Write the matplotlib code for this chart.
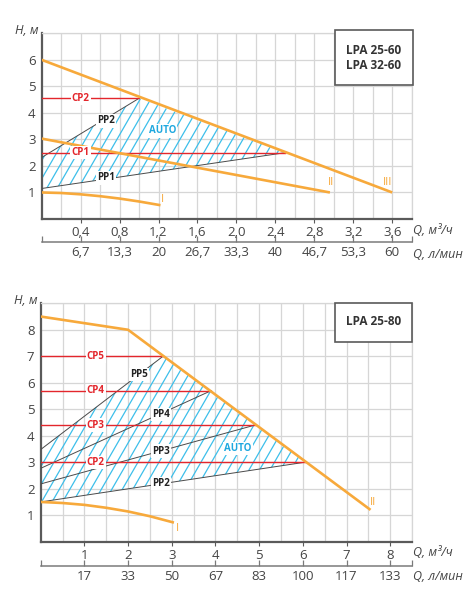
import matplotlib
matplotlib.use("Agg")
import matplotlib.pyplot as plt  # noqa: E402
import numpy as np  # noqa: E402
from matplotlib.patches import Polygon, Rectangle  # noqa: E402

plt.rcParams["font.family"] = ["Open Sans", "DejaVu Sans"]

ORANGE = "#F7A93B"
RED = "#E3262C"
HATCH = "#3DBFEA"
AUTO_BLUE = "#1FA8DF"
GRID = "#D6D6D6"
AXIS = "#5A5A5A"
TEXT = "#444444"
PP_GRAY = "#4A4A4A"

# ---------------------------------------------------------------------------
# LPA 25-60 / LPA 32-60
# ---------------------------------------------------------------------------
top_q_ticks = [0.4, 0.8, 1.2, 1.6, 2.0, 2.4, 2.8, 3.2, 3.6]
top_q_labels = ["0,4", "0,8", "1,2", "1,6", "2,0", "2,4", "2,8", "3,2", "3,6"]
top_lpm_labels = ["6,7", "13,3", "20", "26,7", "33,3", "40", "46,7", "53,3", "60"]
top_h_ticks = [1, 2, 3, 4, 5, 6]

top_I_q = [0.0, 0.2, 0.4, 0.6, 0.8, 1.0, 1.22]
top_I_h = [1.0, 0.98, 0.93, 0.86, 0.77, 0.66, 0.52]
top_II_q = [0.0, 2.96]
top_II_h = [3.03, 1.0]
top_III_q = [0.0, 3.6]
top_III_h = [6.0, 1.0]

top_cp_names = ["CP1", "CP2"]
top_cp_h = [2.5, 4.55]
top_cp_q_end = [2.5, 1.0]
top_pp_names = ["PP1", "PP2"]
top_pp_h0 = [1.15, 2.32]

# ---------------------------------------------------------------------------
# LPA 25-80
# ---------------------------------------------------------------------------
bot_q_ticks = [1, 2, 3, 4, 5, 6, 7, 8]
bot_q_labels = ["1", "2", "3", "4", "5", "6", "7", "8"]
bot_lpm_labels = ["17", "33", "50", "67", "83", "100", "117", "133"]
bot_h_ticks = [1, 2, 3, 4, 5, 6, 7, 8]

bot_I_q = [0.0, 0.5, 1.0, 1.5, 2.0, 2.5, 3.05]
bot_I_h = [1.5, 1.46, 1.39, 1.28, 1.14, 0.96, 0.72]
bot_II_q = [0.0, 2.0, 7.55]
bot_II_h = [8.5, 8.0, 1.2]

bot_cp_names = ["CP2", "CP3", "CP4", "CP5"]
bot_cp_h = [3.0, 4.4, 5.7, 7.0]
bot_cp_q_end = [6.05, 4.9, 3.9, 2.8]
bot_pp_names = ["PP2", "PP3", "PP4", "PP5"]
bot_pp_h0 = [1.5, 2.18, 2.77, 3.48]


def style_axes(ax, xmax, ymax, xstep, q_ticks, q_labels, lpm_labels, h_ticks, sec_loc):
    ax.set_xlim(0, xmax)
    ax.set_ylim(0, ymax)
    ax.set_xticks(q_ticks, labels=q_labels)
    ax.set_xticks(np.arange(xstep, xmax + 1e-6, xstep), minor=True)
    ax.set_yticks(h_ticks)
    ax.set_yticks(np.arange(1, ymax + 1e-6, 1), minor=True)
    ax.grid(which="both", color=GRID, linewidth=0.9)
    ax.set_axisbelow(True)
    for side in ("top", "right"):
        ax.spines[side].set_color(GRID)
        ax.spines[side].set_linewidth(0.9)
    for side in ("left", "bottom"):
        ax.spines[side].set_color(AXIS)
        ax.spines[side].set_linewidth(1.6)
    ax.tick_params(axis="x", which="major", length=3, width=0.8, color=AXIS,
                   labelsize=9.5, labelcolor=TEXT, pad=2)
    ax.tick_params(axis="y", which="major", length=0, labelsize=9.5, labelcolor=TEXT, pad=4.5)
    ax.tick_params(which="minor", length=0)

    sec = ax.secondary_xaxis(sec_loc)
    sec.set_xticks(q_ticks, labels=lpm_labels)
    sec.set_xticks([0, xmax], minor=True)
    sec.spines["bottom"].set_color("#7A7A7A")
    sec.spines["bottom"].set_linewidth(1.1)
    sec.tick_params(which="both", length=4, width=0.9, color="#7A7A7A", direction="in",
                    labelsize=9.5, labelcolor=TEXT, pad=3)

    ax.annotate("H, м", xy=(0, 1), xycoords="axes fraction", xytext=(-15, 3),
                textcoords="offset pixels", ha="center", va="center",
                fontsize=9, style="italic", color=TEXT)


def axis_titles(ax, y1, y2):
    ax.annotate("Q, м³/ч", xy=(1, 0), xycoords="axes fraction", xytext=(1, y1),
                textcoords="offset pixels", ha="left", va="center",
                fontsize=9, style="italic", color=TEXT)
    ax.annotate("Q, л/мин", xy=(1, 0), xycoords="axes fraction", xytext=(1, y2),
                textcoords="offset pixels", ha="left", va="center",
                fontsize=9, style="italic", color=TEXT)


def hatch_region(ax, verts, xmax, ymax, spacing_px=10.5, angle=60):
    fig = ax.figure
    pos = ax.get_position()
    w_px = pos.width * fig.get_figwidth() * fig.dpi
    h_px = pos.height * fig.get_figheight() * fig.dpi
    sx = w_px / xmax
    sy = h_px / ymax
    poly = Polygon(verts, closed=True, facecolor="none", edgecolor="none")
    ax.add_patch(poly)
    run = ymax * sy / np.tan(np.radians(angle)) / sx
    step = spacing_px / sx
    for x0 in np.arange(-run, xmax, step):
        ln, = ax.plot([x0, x0 + run], [0, ymax], color=HATCH, linewidth=0.9, zorder=2)
        ln.set_clip_path(poly)


def label_box(ax, x0, y0, x1, y1):
    ax.add_patch(Rectangle((x0, y0), x1 - x0, y1 - y0, transform=ax.transAxes,
                           facecolor="white", edgecolor=AXIS, linewidth=1.2,
                           clip_on=False, zorder=8))


def tag(ax, x, y, s, color, size=7, weight="bold", box=True):
    kw = dict(boxstyle="square,pad=0.12", facecolor="white", edgecolor="none") if box else None
    ax.text(x, y, s, color=color, fontsize=size, fontweight=weight,
            ha="center", va="center", bbox=kw, zorder=7)


fig = plt.figure(figsize=(4.68, 6.0), dpi=100)

# ---- top chart ----
ax1 = fig.add_axes([0.0891, 0.635, 0.7906, 0.3095])
style_axes(ax1, 3.8, 7, 0.2, top_q_ticks, top_q_labels, top_lpm_labels, top_h_ticks, -0.122)
axis_titles(ax1, -12, -36)

hatch_region(ax1, [(0, top_pp_h0[0]), (0, top_pp_h0[1]),
                   (top_cp_q_end[1], top_cp_h[1]), (top_cp_q_end[0], top_cp_h[0])], 3.8, 7)
for h0, qe, he in zip(top_pp_h0, top_cp_q_end, top_cp_h):
    ax1.plot([0, qe], [h0, he], color=PP_GRAY, linewidth=0.7, zorder=3)
for qe, he in zip(top_cp_q_end, top_cp_h):
    ax1.plot([0, qe], [he, he], color=RED, linewidth=1.0, zorder=4)
ax1.plot(top_I_q, top_I_h, color=ORANGE, linewidth=1.9, zorder=5, solid_capstyle="butt")
ax1.plot(top_II_q, top_II_h, color=ORANGE, linewidth=1.9, zorder=5, solid_capstyle="butt")
ax1.plot(top_III_q, top_III_h, color=ORANGE, linewidth=1.9, zorder=5, solid_capstyle="butt")

for name, h in zip(top_cp_names, top_cp_h):
    tag(ax1, 0.4, h, name, RED)
tag(ax1, 0.66, 3.7, "PP2", "#222222")
tag(ax1, 0.66, 1.55, "PP1", "#222222")
tag(ax1, 1.24, 3.32, "AUTO", AUTO_BLUE)
tag(ax1, 1.24, 0.72, "I", ORANGE, size=8, weight="normal", box=False)
tag(ax1, 2.97, 1.36, "II", ORANGE, size=8, weight="normal", box=False)
tag(ax1, 3.55, 1.37, "III", ORANGE, size=8, weight="normal", box=False)

label_box(ax1, 0.793, 0.7216, 1.003, 1.0178)
ax1.text(0.896, 0.910, "LPA 25-60", transform=ax1.transAxes, ha="center", va="center",
         fontsize=8.5, fontweight="bold", color="#333333", zorder=9)
ax1.text(0.896, 0.824, "LPA 32-60", transform=ax1.transAxes, ha="center", va="center",
         fontsize=8.5, fontweight="bold", color="#333333", zorder=9)

# ---- bottom chart ----
ax2 = fig.add_axes([0.087, 0.0972, 0.7934, 0.3973])
style_axes(ax2, 8.5, 9, 0.5, bot_q_ticks, bot_q_labels, bot_lpm_labels, bot_h_ticks, -0.102)
axis_titles(ax2, -11, -35)

hatch_region(ax2, [(0, bot_pp_h0[0]), (0, bot_pp_h0[-1]),
                   (bot_cp_q_end[-1], bot_cp_h[-1]), (bot_cp_q_end[0], bot_cp_h[0])], 8.5, 9)
for h0, qe, he in zip(bot_pp_h0, bot_cp_q_end, bot_cp_h):
    ax2.plot([0, qe], [h0, he], color=PP_GRAY, linewidth=0.7, zorder=3)
for qe, he in zip(bot_cp_q_end, bot_cp_h):
    ax2.plot([0, qe], [he, he], color=RED, linewidth=1.0, zorder=4)
ax2.plot(bot_I_q, bot_I_h, color=ORANGE, linewidth=1.9, zorder=5, solid_capstyle="butt")
ax2.plot(bot_II_q, bot_II_h, color=ORANGE, linewidth=1.9, zorder=5, solid_capstyle="butt")

for name, h in zip(bot_cp_names, bot_cp_h):
    tag(ax2, 1.26, h, name, RED)
tag(ax2, 2.26, 6.31, "PP5", "#222222")
tag(ax2, 2.75, 4.8, "PP4", "#222222")
tag(ax2, 2.75, 3.42, "PP3", "#222222")
tag(ax2, 2.75, 2.2, "PP2", "#222222")
tag(ax2, 4.51, 3.52, "AUTO", AUTO_BLUE)
tag(ax2, 3.13, 0.5, "I", ORANGE, size=8, weight="normal", box=False)
tag(ax2, 7.6, 1.48, "II", ORANGE, size=8, weight="normal", box=False)

label_box(ax2, 0.7926, 0.839, 1.0, 1.0)
ax2.text(0.896, 0.923, "LPA 25-80", transform=ax2.transAxes, ha="center", va="center",
         fontsize=8.5, fontweight="bold", color="#333333", zorder=9)

fig.savefig("out.png", dpi=100, facecolor="white")
plt.close(fig)
